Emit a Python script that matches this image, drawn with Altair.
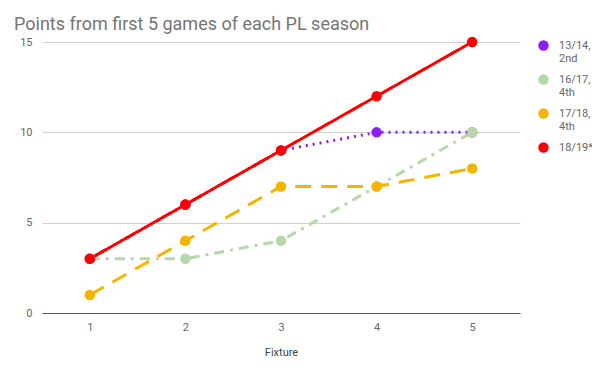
import altair as alt
import pandas as pd

fixtures = [1, 2, 3, 4, 5]
seasons = ["13/14,\n2nd", "16/17,\n4th", "17/18,\n4th", "18/19*"]
s1314 = [3, 6, 9, 10, 10]
s1617 = [3, 3, 4, 7, 10]
s1718 = [1, 4, 7, 7, 8]
s1819 = [3, 6, 9, 12, 15]
colors = ["#8f1cf7", "#b7d7a8", "#f4b400", "#ff0000"]
dashes = [[2, 5], [10, 6, 3, 6], [16, 10], [1, 0]]

rows = []
for name, vals in zip(seasons, [s1314, s1617, s1718, s1819]):
    for f, v in zip(fixtures, vals):
        rows.append({"Fixture": f, "Points": v, "Season": name})
df = pd.DataFrame(rows)

order = {s: i for i, s in enumerate(seasons)}
df["ord"] = df["Season"].map(order)

x = alt.X("Fixture:Q", scale=alt.Scale(domain=[0.5, 5.5], nice=False),
          axis=alt.Axis(values=fixtures, grid=False, ticks=False, domainColor="#555",
                        labelColor="#666", labelFontSize=11, title="Fixture",
                        titleFontWeight="normal", titleColor="#444", titleFontSize=11,
                        labelPadding=8, titlePadding=14, labelFont="Roboto", titleFont="Roboto"))
y = alt.Y("Points:Q", scale=alt.Scale(domain=[0, 15], nice=False),
          axis=alt.Axis(values=[0, 5, 10, 15], domain=False, ticks=False, gridColor="#d0d0d0",
                        labelColor="#666", labelFontSize=11, title=None, labelPadding=10,
                        labelFont="Roboto"))
color = alt.Color("Season:N", scale=alt.Scale(domain=seasons, range=colors),
                  legend=alt.Legend(title=None, orient="none", legendX=496, legendY=-2,
                                    symbolType="circle", symbolSize=110, symbolStrokeWidth=0,
                                    labelExpr="split(datum.label, '\\n')",
                                    labelFontSize=11, labelColor="#666", labelFont="Roboto",
                                    rowPadding=9, labelOffset=10))
dash = alt.StrokeDash("Season:N", scale=alt.Scale(domain=seasons, range=dashes), legend=None)

base = alt.Chart(df)
lines = base.mark_line(strokeWidth=3).encode(x=x, y=y, color=color, strokeDash=dash, detail="Season:N",
                                              order=alt.Order("Fixture:Q"))
points = base.mark_circle(size=110, opacity=1).encode(x=x, y=y, color=color,
                                                    order=alt.Order("ord:Q"))

chart = alt.layer(lines, points).properties(
    width=478, height=271,
    title=alt.Title("Points from first 5 games of each PL season", anchor="start", frame="group",
                    dx=-28, offset=2, fontSize=18, fontWeight="normal", color="#757575", font="Roboto"),
    autosize=alt.AutoSizeParams(type="none"),
    padding={"left": 34, "top": 34, "right": 72, "bottom": 47},
).configure_view(stroke=None)

chart.save("out.html", embed_options={"renderer": "svg", "actions": False})
